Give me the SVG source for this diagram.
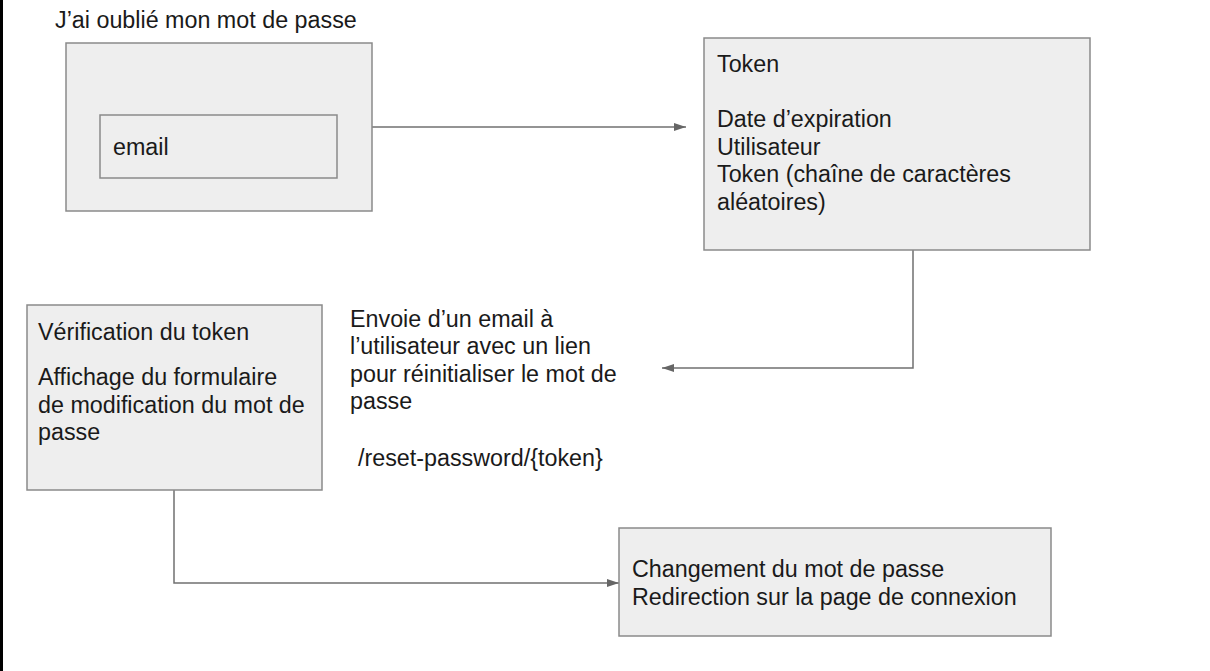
<svg xmlns="http://www.w3.org/2000/svg" width="1210" height="671" viewBox="0 0 1210 671">
<defs>
<style>
.box{fill:#eeeeee;stroke:#8a8a8a;stroke-width:1.5}
.t{font-family:"Liberation Sans",Arial,sans-serif;font-size:23.3px;fill:#1a1a1a}
.c{fill:none;stroke:#707070;stroke-width:1.5}
</style>
<marker id="arr" viewBox="0 0 12 10" refX="12" refY="5" markerWidth="12" markerHeight="10" markerUnits="userSpaceOnUse" orient="auto">
<path d="M0,1 L12,5 L0,9 Z" fill="#666666"/>
</marker>
</defs>
<rect x="0" y="0" width="1210" height="671" fill="#ffffff"/>
<rect x="0" y="0" width="3" height="671" fill="#000000"/>
<g id="connectors">
<path class="c" d="M372,127 H686" marker-end="url(#arr)"/>
<path class="c" d="M913,250 V368 H662" marker-end="url(#arr)"/>
<path class="c" d="M174,490 V583 H619" marker-end="url(#arr)"/>
</g>
<g id="forgot">
<text class="t" x="55" y="28">J’ai oublié mon mot de passe</text>
<rect class="box" x="66" y="43" width="306" height="168"/>
<g id="email">
<rect class="box" x="100" y="115" width="237" height="63"/>
<text class="t" x="113" y="155">email</text>
</g>
</g>
<g id="token">
<rect class="box" x="704" y="38" width="386" height="212"/>
<text class="t" x="717" y="72">Token</text>
<text class="t" x="717" y="127">Date d’expiration</text>
<text class="t" x="717" y="155">Utilisateur</text>
<text class="t" x="717" y="182">Token (chaîne de caractères</text>
<text class="t" x="717" y="210">aléatoires)</text>
</g>
<g id="email-label">
<text class="t" x="350" y="327">Envoie d’un email à</text>
<text class="t" x="350" y="354">l’utilisateur avec un lien</text>
<text class="t" x="350" y="382">pour réinitialiser le mot de</text>
<text class="t" x="350" y="409">passe</text>
<text class="t" x="358" y="466">/reset-password/{token}</text>
</g>
<g id="verify">
<rect class="box" x="27" y="305" width="295" height="185"/>
<text class="t" x="38" y="340">Vérification du token</text>
<text class="t" x="38" y="385">Affichage du formulaire</text>
<text class="t" x="38" y="413">de modification du mot de</text>
<text class="t" x="38" y="440">passe</text>
</g>
<g id="change">
<rect class="box" x="619" y="528" width="432" height="108"/>
<text class="t" x="632" y="577">Changement du mot de passe</text>
<text class="t" x="632" y="605">Redirection sur la page de connexion</text>
</g>
</svg>
